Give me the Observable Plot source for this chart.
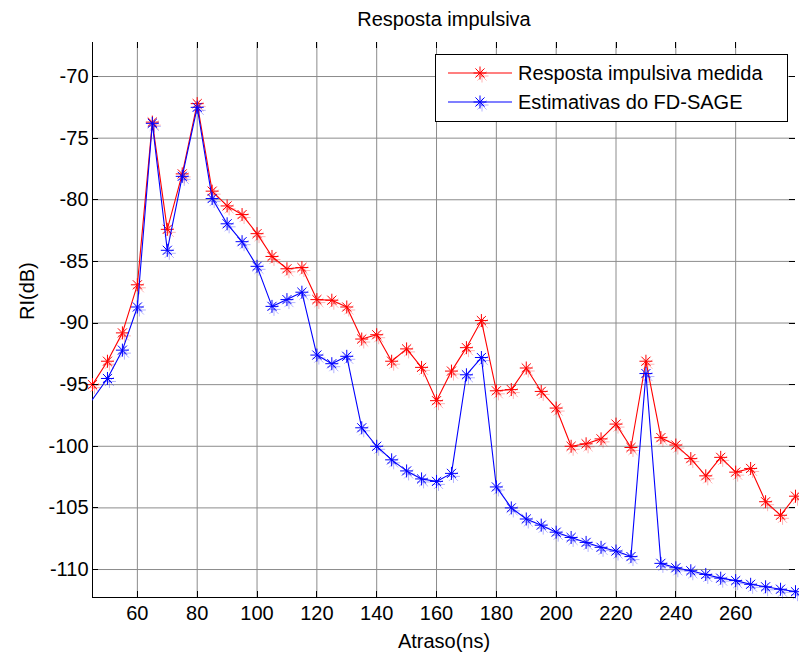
<!DOCTYPE html>
<html><head><meta charset="utf-8">
<script src="https://cdn.jsdelivr.net/npm/d3@7"></script>
<script src="https://cdn.jsdelivr.net/npm/@observablehq/plot@0.6"></script>
<style>html,body{margin:0;padding:0;background:#fff} svg{display:block}</style>
</head><body><div id="chart"></div>
<script>
const titleText = "Resposta impulsiva";
const xLabel = "Atraso(ns)";
const yLabel = "RI(dB)";
const seriesNames = ["Resposta impulsiva medida", "Estimativas do FD-SAGE"];
const seriesColors = ["#ff0000", "#0000ff"];

const redTimes = [45,50,55,60,65,70,75,80,85,90,95,100,105,110,115,120,125,130,135,140,145,150,155,160,165,170,175,180,185,190,195,200,205,210,215,220,225,230,235,240,245,250,255,260,265,270,275,280];
const redValues = [-95.0,-93.1,-90.8,-86.9,-73.7,-82.4,-77.9,-72.2,-79.3,-80.5,-81.2,-82.75,-84.6,-85.6,-85.5,-88.1,-88.15,-88.7,-91.3,-90.95,-93.1,-92.1,-93.6,-96.3,-93.9,-92.0,-89.8,-95.5,-95.4,-93.65,-95.55,-96.9,-100.0,-99.8,-99.4,-98.2,-100.1,-93.1,-99.3,-99.9,-101.0,-102.4,-100.9,-102.1,-101.8,-104.5,-105.6,-104.05];

const blueTimes = [40,50,55,60,65,70,75,80,85,90,95,100,105,110,115,120,125,130,135,140,145,150,155,160,165,170,175,180,185,190,195,200,205,210,215,220,225,230,235,240,245,250,255,260,265,270,275,280];
const blueValues = [-97.9,-94.5,-92.2,-88.7,-73.8,-84.1,-78.1,-72.5,-79.9,-81.95,-83.4,-85.4,-88.65,-88.1,-87.5,-92.6,-93.3,-92.7,-98.5,-100.0,-101.1,-102.0,-102.65,-102.85,-102.2,-94.2,-92.8,-103.3,-105.0,-105.9,-106.4,-106.97,-107.4,-107.8,-108.2,-108.5,-108.95,-94.1,-109.5,-109.86,-110.1,-110.4,-110.7,-110.9,-111.2,-111.4,-111.6,-111.8];

const xTicks = [60,80,100,120,140,160,180,200,220,240,260];
const yTicks = [-70,-75,-80,-85,-90,-95,-100,-105,-110];
const xDomain = [45, 280];
const yDomain = [-112.27, -67.24];

const red = redTimes.map((t, i) => ({t, v: redValues[i]}));
const blue = blueTimes.map((t, i) => ({t, v: blueValues[i]}));
const inView = d => d.t >= xDomain[0] && d.t <= xDomain[1];

// MATLAB-like '*' marker: plus + cross
const star8 = {
  draw(ctx, size) {
    const r = Math.sqrt(size / Math.PI);
    const d = r * 0.7;
    ctx.moveTo(-r, 0); ctx.lineTo(r, 0);
    ctx.moveTo(0, -r); ctx.lineTo(0, r);
    ctx.moveTo(-d, -d); ctx.lineTo(d, d);
    ctx.moveTo(-d, d); ctx.lineTo(d, -d);
  }
};

const font = "'Liberation Sans', Arial, Helvetica, sans-serif";
const gridColor = "#8c8c8c";
const fs = 20;

function seriesMarks(data, color) {
  return [
    Plot.line(data, {x: "t", y: "v", stroke: color, strokeWidth: 1.1, clip: true}),
    Plot.dot(data, {filter: inView, x: "t", y: "v", symbol: star8, r: 6.5, fill: "none", stroke: color, strokeWidth: 1, strokeOpacity: 0.3, dx: 2, dy: 3}),
    Plot.dot(data, {filter: inView, x: "t", y: "v", symbol: star8, r: 6.5, fill: "none", stroke: color, strokeWidth: 1})
  ];
}

const chart = Plot.plot({
  width: 799, height: 657,
  marginLeft: 92, marginRight: 4, marginTop: 42, marginBottom: 60,
  style: {fontFamily: font, fontSize: fs + "px", color: "#000", background: "#fff", overflow: "visible"},
  x: {domain: xDomain, axis: null},
  y: {domain: yDomain, axis: null},
  marks: [
    Plot.gridX(xTicks, {stroke: gridColor, strokeOpacity: 1, strokeWidth: 1}),
    Plot.gridY(yTicks, {stroke: gridColor, strokeOpacity: 1, strokeWidth: 1}),
    Plot.ruleX([xDomain[0]], {stroke: "#000", strokeWidth: 1}),
    Plot.ruleY([yDomain[0]], {stroke: "#000", strokeWidth: 1}),
    ...seriesMarks(red, seriesColors[0]),
    ...seriesMarks(blue, seriesColors[1]),
    // tick labels
    Plot.text(xTicks, {x: d => d, frameAnchor: "bottom", dy: 16, text: d => String(d), fontSize: fs, fill: "#000", lineAnchor: "middle"}),
    Plot.text(yTicks, {y: d => d, frameAnchor: "left", dx: -4, text: d => String(d), textAnchor: "end", fontSize: fs, fill: "#000", lineAnchor: "middle"}),
    // title and axis labels
    Plot.text([titleText], {text: d => d, frameAnchor: "top", dy: -23, fontSize: fs, fill: "#000", lineAnchor: "middle"}),
    Plot.text([xLabel], {text: d => d, frameAnchor: "bottom", dy: 44, fontSize: fs, fill: "#000", lineAnchor: "middle"}),
    Plot.text([yLabel], {text: d => d, frameAnchor: "left", dx: -65, rotate: -90, fontSize: fs, fill: "#000", lineAnchor: "middle"})
  ]
});

document.getElementById("chart").appendChild(chart);

// inward ticks on all four sides, placed through the chart's scales
const sx = chart.scale("x"), sy = chart.scale("y");
const svgSel = d3.select(chart);
const pxLeft = sx.apply(xDomain[0]), pxRight = sx.apply(xDomain[1]);
const pxTop = sy.apply(yDomain[1]), pxBottom = sy.apply(yDomain[0]);
const tk = 6;
const tg = svgSel.append("g").attr("stroke", "#000").attr("stroke-width", 1);
xTicks.forEach(v => {
  const x = Math.round(sx.apply(v)) + 0.5;
  tg.append("line").attr("x1", x).attr("x2", x).attr("y1", pxBottom).attr("y2", pxBottom - tk);
  tg.append("line").attr("x1", x).attr("x2", x).attr("y1", pxTop).attr("y2", pxTop + tk);
});
yTicks.forEach(v => {
  const y = Math.round(sy.apply(v)) + 0.5;
  tg.append("line").attr("x1", pxLeft).attr("x2", pxLeft + tk).attr("y1", y).attr("y2", y);
  tg.append("line").attr("x1", pxRight).attr("x2", pxRight - tk).attr("y1", y).attr("y2", y);
});

// legend box (inside the plot, top right)
const lg = svgSel.append("g").attr("font-family", font).attr("font-size", fs).attr("text-anchor", "start");
lg.append("rect").attr("x", 435.5).attr("y", 54.5).attr("width", 352).attr("height", 67)
  .attr("fill", "#fff").attr("stroke", "#000").attr("stroke-width", 1);
const rowsY = [73, 102];
seriesNames.forEach((name, i) => {
  const y = rowsY[i];
  lg.append("line").attr("x1", 448).attr("x2", 512).attr("y1", y).attr("y2", y)
    .attr("stroke", seriesColors[i]).attr("stroke-width", 1.1);
  const p = d3.path(); star8.draw(p, Math.PI * 6.5 * 6.5);
  lg.append("path").attr("d", p.toString()).attr("transform", `translate(${482},${y + 3})`)
    .attr("fill", "none").attr("stroke", seriesColors[i]).attr("stroke-opacity", 0.3);
  lg.append("path").attr("d", p.toString()).attr("transform", `translate(${480},${y})`)
    .attr("fill", "none").attr("stroke", seriesColors[i]).attr("stroke-width", 1);
  lg.append("text").attr("x", 518).attr("y", y).attr("dy", "0.35em").attr("fill", "#000").text(name);
});
</script>
</body></html>
